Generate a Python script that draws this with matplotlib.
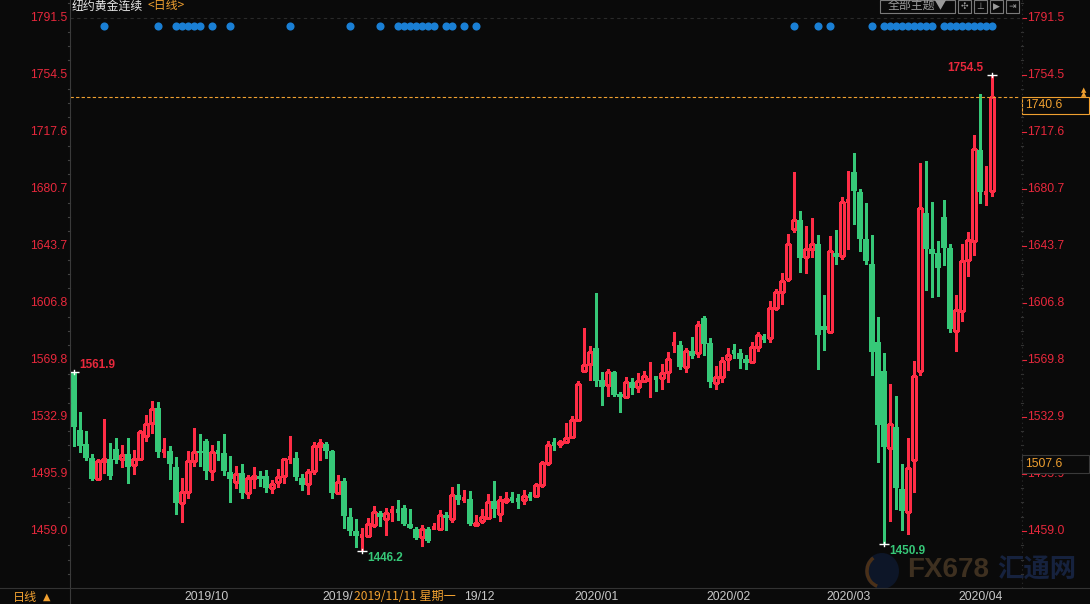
import matplotlib
matplotlib.use('Agg')
import matplotlib.pyplot as plt
from matplotlib.patches import Rectangle, Ellipse
import matplotlib.transforms as mtransforms
import numpy as np

# ---------------- data ----------------
opens = [1561.2,1524.4,1515.4,1506.3,1492.7,1504.1,1505.6,1512.1,1505.9,1508.9,
         1501.5,1505.6,1520.8,1529.2,1538.7,1510.6,1510.8,1500.5,1477.1,1484.3,
         1504.4,1510.8,1517.1,1498.1,1510.2,1509.5,1497.2,1491.0,1496.6,1483.8,
         1493.5,1494.6,1494.6,1487.1,1490.5,1494.4,1505.9,1506.3,1493.3,1489.7,
         1498.1,1514.3,1515.3,1510.8,1483.8,1491.4,1468.0,1458.7,1455.3,1455.9,
         1463.1,1470.4,1466.9,1471.3,1471.9,1473.8,1463.5,1460.2,1454.8,1460.2,
         1460.5,1460.5,1469.3,1466.9,1482.3,1479.4,1479.7,1463.0,1465.8,1467.6,
         1478.4,1470.2,1478.6,1480.1,1479.7,1478.8,1482.0,1481.8,1489.0,1503.4,
         1515.6,1515.1,1516.8,1520.1,1531.1,1562.5,1567.0,1577.6,1556.9,1553.4,
         1562.1,1547.8,1546.1,1555.6,1552.6,1556.4,1556.8,1558.2,1558.4,1562.3,
         1579.8,1579.3,1565.5,1575.7,1574.6,1597.1,1580.9,1555.2,1559.0,1570.2,
         1575.0,1574.3,1570.4,1568.7,1578.4,1583.9,1584.2,1603.7,1614.1,1622.3,
         1654.9,1660.5,1636.8,1642.0,1645.0,1591.8,1588.0,1639.1,1637.4,1672.4,
         1691.7,1678.7,1648.2,1632.0,1581.5,1562.7,1512.5,1526.4,1486.2,1471.0,
         1504.8,1563.0,1665.1,1641.8,1639.2,1662.5,1642.4,1588.8,1601.8,1634.9,
         1647.2,1706.0,1677.8,1679.6]
highs = [1561.9,1536.1,1523.8,1508.9,1505.6,1531.6,1516.0,1519.3,1514.7,1519.3,
         1511.5,1524.4,1534.2,1543.2,1542.6,1519.3,1514.1,1507.2,1493.5,1510.8,
         1525.7,1521.9,1518.6,1514.5,1517.1,1521.9,1507.6,1501.1,1502.4,1495.3,
         1500.5,1497.9,1498.5,1492.0,1499.2,1506.1,1520.6,1510.2,1496.1,1499.2,
         1516.7,1518.6,1516.4,1511.5,1495.0,1493.3,1473.9,1466.7,1460.9,1467.4,
         1474.9,1472.1,1473.6,1475.1,1479.0,1475.6,1473.2,1461.3,1462.6,1461.3,
         1464.4,1472.6,1471.0,1487.4,1489.4,1485.5,1484.8,1469.3,1473.2,1482.9,
         1491.3,1482.0,1484.2,1484.2,1482.9,1485.5,1484.2,1490.0,1504.7,1517.3,
         1519.0,1518.3,1528.9,1533.5,1556.2,1590.6,1578.9,1613.3,1562.1,1564.0,
         1562.7,1549.1,1558.6,1558.0,1561.2,1562.7,1568.5,1559.3,1567.2,1575.0,
         1588.0,1582.2,1577.6,1584.8,1594.9,1598.4,1583.9,1565.9,1571.7,1577.6,
         1580.1,1576.9,1573.0,1581.4,1587.9,1586.6,1608.0,1615.8,1626.2,1651.4,
         1691.6,1666.4,1656.6,1661.8,1650.8,1611.9,1650.0,1654.0,1675.5,1692.3,
         1704.0,1680.6,1671.6,1650.8,1597.7,1574.3,1554.2,1546.5,1502.4,1519.2,
         1569.1,1697.5,1698.8,1672.3,1647.0,1673.6,1645.0,1612.0,1645.0,1652.8,
         1715.7,1742.3,1695.6,1754.5]
lows = [1514.1,1510.4,1505.0,1492.0,1492.7,1496.8,1492.9,1503.3,1500.5,1490.3,
        1496.1,1505.0,1517.5,1522.7,1507.2,1507.2,1492.9,1470.0,1465.0,1480.6,
        1501.1,1501.3,1492.9,1492.3,1505.0,1495.5,1478.0,1487.1,1480.4,1480.6,
        1486.9,1488.2,1484.3,1483.8,1487.7,1490.3,1503.3,1492.0,1485.6,1483.2,
        1496.1,1505.2,1506.5,1480.6,1483.8,1461.1,1456.6,1448.8,1446.2,1455.9,
        1461.8,1462.2,1456.6,1465.2,1466.1,1462.6,1460.7,1454.0,1449.4,1451.8,
        1460.5,1459.4,1459.6,1464.8,1476.4,1477.9,1462.8,1463.0,1464.3,1466.9,
        1468.2,1465.6,1477.3,1477.9,1474.0,1476.6,1479.2,1481.2,1487.4,1501.7,
        1511.4,1513.6,1516.8,1519.2,1530.4,1562.5,1556.9,1553.0,1540.7,1546.7,
        1546.7,1536.3,1546.1,1548.0,1549.3,1555.8,1546.1,1549.9,1551.3,1555.8,
        1575.2,1564.0,1562.3,1571.4,1571.8,1573.1,1552.3,1551.0,1555.3,1563.3,
        1571.1,1564.6,1563.9,1567.8,1575.8,1581.7,1581.7,1602.2,1606.3,1621.0,
        1652.7,1626.8,1626.4,1636.8,1563.9,1576.3,1587.5,1632.0,1635.3,1641.7,
        1657.9,1640.4,1632.0,1560.1,1503.7,1450.9,1465.6,1473.2,1459.8,1457.0,
        1484.4,1560.3,1615.2,1610.7,1611.3,1631.4,1588.2,1575.9,1595.3,1624.5,
        1638.1,1671.8,1670.5,1676.1]
closes = [1526.6,1514.3,1506.5,1492.7,1504.4,1505.6,1494.6,1505.0,1508.0,1500.7,
          1505.4,1523.1,1528.3,1538.1,1510.4,1511.0,1502.4,1477.1,1484.3,1504.4,
          1510.0,1509.8,1498.1,1510.0,1509.8,1498.1,1492.9,1495.9,1483.8,1493.3,
          1494.6,1492.9,1486.9,1489.2,1493.8,1505.4,1506.3,1494.2,1489.0,1497.2,
          1514.1,1515.8,1511.0,1483.8,1490.7,1468.9,1459.2,1455.7,1455.9,1463.3,
          1471.0,1468.0,1470.4,1472.1,1471.7,1463.7,1460.7,1454.4,1460.2,1452.7,
          1460.9,1469.3,1467.6,1482.3,1479.0,1480.3,1463.5,1464.5,1468.0,1478.1,
          1473.2,1478.8,1479.7,1479.7,1478.8,1481.4,1481.4,1488.5,1503.4,1514.5,
          1515.1,1517.0,1519.0,1530.7,1554.2,1566.4,1575.0,1556.4,1552.6,1562.1,
          1547.2,1546.1,1555.6,1551.9,1556.2,1559.3,1557.1,1557.7,1561.4,1570.3,
          1580.2,1565.5,1575.5,1572.7,1592.3,1580.4,1555.8,1558.6,1569.1,1573.0,
          1574.6,1570.4,1567.8,1578.2,1585.8,1583.8,1603.3,1613.9,1620.8,1644.7,
          1660.5,1636.1,1641.7,1644.8,1586.2,1589.2,1640.2,1636.8,1672.0,1673.3,
          1679.6,1648.2,1634.2,1575.2,1527.9,1513.6,1528.3,1487.0,1472.1,1499.6,
          1559.3,1668.3,1641.8,1638.5,1629.5,1642.4,1590.1,1602.2,1634.0,1647.6,
          1706.6,1679.0,1678.7,1740.6]

event_idx = [5,14,17,18,19,20,21,23,26,36,46,51,54,55,56,57,58,59,60,62,63,65,67,
             120,124,126,133,135,136,137,138,139,140,141,142,143,
             145,146,147,148,149,150,151,152,153]

price_ticks = [1791.5,1754.5,1717.6,1680.7,1643.7,1606.8,1569.8,1532.9,1495.9,1459.0]
price_labels = ['1791.5','1754.5','1717.6','1680.7','1643.7','1606.8','1569.8','1532.9','1495.9','1459.0']
month_idx = [18,41,62,83,105,125,147]
month_labels = ['2019/10','2019/11','2019/12','2020/01','2020/02','2020/03','2020/04']

last_price = 1740.6
cross_price = 1507.6
cross_idx = 47
cross_label = '2019/11/11 星期一'
hi_idx, hi_val = 153, 1754.5
lo1_idx, lo1_val = 48, 1446.2
lo2_idx, lo2_val = 135, 1450.9
first_idx, first_val = 0, 1561.9

# ---------------- style ----------------
BG = '#0a0a0a'
RED = '#ff2d46'
GREEN = '#36c878'
AXRED = '#e8283c'
ORANGE = '#f0a030'
GRID = '#3a3a3a'
BLUE = '#1a7fd4'
CJK = ['Noto Sans CJK SC', 'DejaVu Sans']
NUM = 'Liberation Sans'

W, H = 1090, 604
fig = plt.figure(figsize=(W/100, H/100), dpi=100)
fig.patch.set_facecolor(BG)

def fx(x):
    return x / W
def fy(y):
    return 1 - y / H

ax = fig.add_axes([fx(70), fy(588), 950/W, 588/H])
ax.set_facecolor(BG)
s = 1.5429
ax.set_ylim(1791.5 - 570/s, 1791.5 + 18/s)
ax.set_xlim(-0.667, 157.667)
for sp in ax.spines.values():
    sp.set_visible(False)
ax.set_xticks([])
ax.set_yticks([])

lw = 0.75
for k, (o, h, l, c) in enumerate(zip(opens, highs, lows, closes)):
    up = c >= o
    col = RED if up else GREEN
    lo_b, hi_b = min(o, c), max(o, c)
    if up:
        if hi_b - lo_b < 1.0:
            ax.vlines(k, l, h, color=col, lw=lw, antialiased=False)
            ax.hlines((o + c) / 2, k - 0.4, k + 0.4, color=col, lw=1.5, antialiased=False)
        else:
            ax.vlines(k, l, lo_b, color=col, lw=lw, antialiased=False)
            ax.vlines(k, hi_b, h, color=col, lw=lw, antialiased=False)
            ax.add_patch(Rectangle((k - 0.34, lo_b), 0.68, hi_b - lo_b, fill=False,
                                   edgecolor=col, lw=lw, antialiased=False))
    else:
        ax.vlines(k, l, h, color=col, lw=lw, antialiased=False)
        if hi_b - lo_b < 1.0:
            ax.hlines((o + c) / 2, k - 0.4, k + 0.4, color=col, lw=1.5, antialiased=False)
        else:
            ax.add_patch(Rectangle((k - 0.42, lo_b), 0.84, hi_b - lo_b, facecolor=col,
                                   edgecolor='none', antialiased=False))

# event dots
ax.scatter(event_idx, [1791.5 - 8/s] * len(event_idx), s=34, color=BLUE, zorder=5, linewidths=0)

# top dashed line and last price line
ax.axhline(1791.5, color='#2a2a2a', lw=0.8, ls=(0, (3, 3)))
ax.axhline(last_price, color=ORANGE, lw=0.8, ls=(0, (3, 2)))

# high/low annotations
for (xi, v) in [(first_idx, first_val), (hi_idx, hi_val), (lo1_idx, lo1_val), (lo2_idx, lo2_val)]:
    ax.plot([xi - 0.9, xi + 0.9], [v, v], color='white', lw=1, solid_capstyle='butt')
    ax.plot([xi, xi], [v - 1.3, v + 1.3], color='white', lw=1)
ax.text(first_idx + 0.9, first_val + 4.5, f'{first_val:.1f}', color=AXRED, fontsize=8.5,
        fontweight='bold', family=NUM, ha='left', va='center')
ax.text(hi_idx - 1.4, hi_val + 4.6, f'{hi_val:.1f}', color=AXRED, fontsize=8.5,
        fontweight='bold', family=NUM, ha='right', va='center')
ax.text(lo1_idx + 0.8, lo1_val - 4.7, f'{lo1_val:.1f}', color=GREEN, fontsize=8.5,
        fontweight='bold', family=NUM, ha='left', va='center')
ax.text(lo2_idx + 0.9, lo2_val - 4.9, f'{lo2_val:.1f}', color=GREEN, fontsize=8.5,
        fontweight='bold', family=NUM, ha='left', va='center')

# y-axis labels (both sides)
trans = mtransforms.blended_transform_factory(ax.transAxes, ax.transData)
for v, lab in zip(price_ticks, price_labels):
    ax.text(-3/950, v, lab, transform=trans, color=AXRED, fontsize=8.7, family=NUM,
            ha='right', va='center', clip_on=False)
    ax.text(1 + 7/950, v, lab, transform=trans, color=AXRED, fontsize=8.7, family=NUM,
            ha='left', va='center', clip_on=False)
    ax.plot([1 + 2/950, 1 + 6/950], [v, v], transform=trans, color=AXRED, lw=0.8, clip_on=False)

# minor ticks (skip the labelled levels)
step = (price_ticks[0] - price_ticks[1]) / 4
minor = np.arange(price_ticks[-1] - 3*step, price_ticks[0] + 1.5*step, step)
for j, mv in enumerate(minor):
    if (j - 3) % 4 == 0:
        continue
    ax.plot([-2/950, 0], [mv, mv], transform=trans, color='#444444', lw=0.8, clip_on=False)
    ax.plot([1 + 1/950, 1 + 3/950], [mv, mv], transform=trans, color='#333333', lw=0.8, clip_on=False)

# axes borders
fig.add_artist(plt.Line2D([fx(70), fx(70)], [fy(0), fy(604)], color=GRID, lw=0.8))
fig.add_artist(plt.Line2D([fx(1022), fx(1022)], [fy(0), fy(588)], color='#2e2e2e', lw=0.8, ls=(0, (1, 3))))
fig.add_artist(plt.Line2D([0, 1], [fy(588), fy(588)], color='#333333', lw=0.8))

# price boxes on the right axis
fig.add_artist(Rectangle((fx(1021.5), fy(114)), 67/W, 17/H, facecolor=BG, edgecolor=ORANGE, lw=0.8))
fig.text(fx(1025), fy(105.5), f'{last_price:.1f}', color=ORANGE, fontsize=8.7, family=NUM,
         ha='left', va='center')
fig.add_artist(Rectangle((fx(1021.5), fy(473)), 67/W, 18/H, facecolor=BG, edgecolor='#3a3a3a', lw=0.8))
fig.text(fx(1025), fy(464), f'{cross_price:.1f}', color=ORANGE, fontsize=8.7, family=NUM,
         ha='left', va='center')
fig.text(fx(1084), fy(94), '▲', color=ORANGE, fontsize=5, ha='center', va='center')
fig.text(fx(1084), fy(90), '▲', color=ORANGE, fontsize=5, ha='center', va='center')

# title
fig.text(fx(72), fy(6), '纽约黄金连续', color='#e6e6e6', fontsize=8.6, family=CJK, ha='left', va='center')
fig.text(fx(147), fy(6), '<日线>', color=ORANGE, fontsize=8.6, family=CJK, ha='left', va='center')

# top-right buttons
fig.add_artist(Rectangle((fx(880), fy(13)), 75/W, 13/H, fill=False, edgecolor='#7a7a7a', lw=0.8))
fig.text(fx(917.5), fy(5.5), '全部主题▼', color='#9a9a9a', fontsize=8.6, family=CJK, ha='center', va='center')
for x0, g in zip([958, 974, 990, 1006], ['✣', '⊥', '▶', '⇥']):
    fig.add_artist(Rectangle((fx(x0), fy(13)), 13/W, 13/H, fill=False, edgecolor='#7a7a7a', lw=0.8))
    fig.text(fx(x0 + 6.5), fy(6.5), g, color='#9a9a9a', fontsize=6.5, family='DejaVu Sans',
             ha='center', va='center')

# bottom date labels (the two partly hidden behind the crosshair date box show only their visible part)
visible = {1: month_labels[1][:5], 2: month_labels[2][2:]}
for j, (i, lab) in enumerate(zip(month_idx, month_labels)):
    xpix = 74 + 6 * i + 2
    txt = visible.get(j, lab)
    if j == 2:
        xpix = 74 + 6 * cross_idx + 108
    fig.text(fx(xpix), fy(597), txt, color='#c8c8c8', fontsize=8.7, family=NUM, ha='left', va='center')
fig.text(fx(74 + 6 * cross_idx - 2), fy(597), cross_label, color=ORANGE, fontsize=8.7, family=CJK,
         ha='left', va='center')
fig.text(fx(13), fy(597), '日线', color=ORANGE, fontsize=8.7, family=CJK, ha='left', va='center')
fig.text(fx(47), fy(597), '▲', color=ORANGE, fontsize=7, family='DejaVu Sans', ha='center', va='center')

# watermark
fig.add_artist(Ellipse((fx(882), fy(571)), 34/W, 36/H, facecolor='#0d1628', edgecolor='none'))
fig.add_artist(matplotlib.patches.Arc((fx(882), fy(571)), 30/W, 32/H, theta1=110, theta2=260,
                                      color='#4a3018', lw=2.5))
fig.text(fx(907), fy(570), 'FX678', color='#3e3020', fontsize=20, fontweight='bold',
         family=NUM, ha='left', va='center')
fig.text(fx(1076), fy(570), '汇通网', color='#16223e', fontsize=19, family=CJK, fontweight='bold',
         ha='right', va='center')

fig.savefig('out.png', dpi=100, facecolor=BG)
